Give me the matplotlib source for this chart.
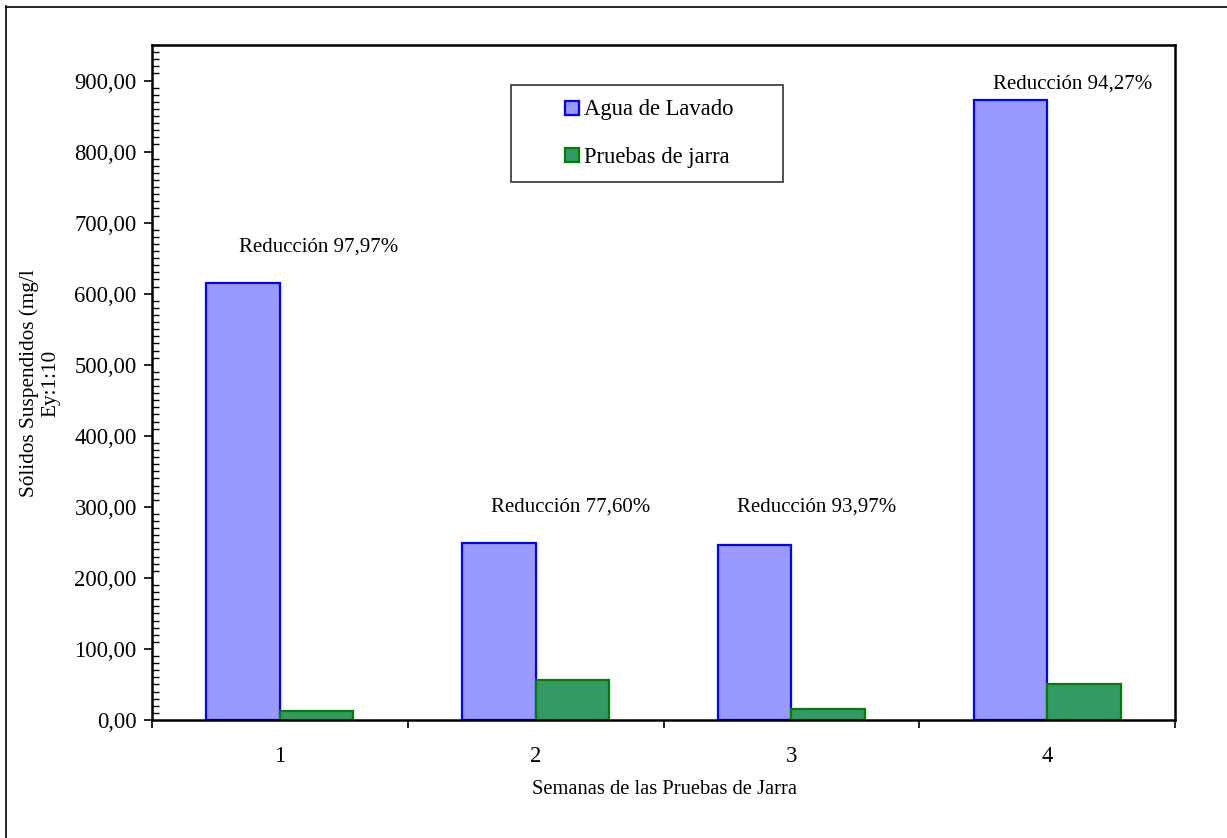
import matplotlib
matplotlib.use("Agg")
import matplotlib.pyplot as plt
from matplotlib.ticker import MultipleLocator, FuncFormatter, FixedLocator
from matplotlib.lines import Line2D
from matplotlib.patches import Rectangle
import numpy as np

# Data
weeks = ["1", "2", "3", "4"]
agua_lavado = [615.0, 248.5, 247.0, 873.0]
pruebas_jarra = [12.5, 55.6, 14.9, 50.0]
reduccion = ["97,97", "77,60", "93,97", "94,27"]

series_names = ["Agua de Lavado", "Pruebas de jarra"]
x_label = "Semanas de las Pruebas de Jarra"
y_label = "Sólidos Suspendidos (mg/l\nEy:1:10"

# Placement of the reduction labels (x offset from group centre, height in data units)
label_dx = [0.15, 0.135, 0.10, 0.10]
label_y = [666, 300, 300, 895]

plt.rcParams["font.family"] = ["Liberation Serif", "DejaVu Serif"]

W, H = 1227, 838
AX_L, AX_R, AX_T, AX_B = 152, 1175, 45, 720
fig = plt.figure(figsize=(W / 100, H / 100), dpi=100)
ax = fig.add_axes([AX_L / W, 1 - AX_B / H, (AX_R - AX_L) / W, (AX_B - AX_T) / H])


def px_to_axes(px, py):
    return ((px - AX_L) / (AX_R - AX_L), (AX_B - py) / (AX_B - AX_T))


x = np.arange(len(weeks))
w = 0.287
ax.bar(x - w / 2, agua_lavado, w, color="#9999FF", edgecolor="#0000FF",
       linewidth=1.6, zorder=2)
ax.bar(x + w / 2, pruebas_jarra, w, color="#339966", edgecolor="#008000",
       linewidth=1.6, zorder=2)

for xi, dx, yi, r in zip(x, label_dx, label_y, reduccion):
    ax.text(xi + dx, yi, f"Reducción {r}%", ha="center", va="center",
            fontsize=15)

ax.set_xlim(-0.5, len(weeks) - 0.5)
ax.set_ylim(0, 950)

# y axis: majors outside with labels, minors inside
ax.yaxis.set_major_locator(FixedLocator(np.arange(0, 901, 100)))
ax.yaxis.set_minor_locator(MultipleLocator(10))
ax.yaxis.set_major_formatter(FuncFormatter(lambda v, p: f"{v:.2f}".replace(".", ",")))
ax.tick_params(axis="y", which="major", direction="out", length=6, width=1.2,
               labelsize=16.3, pad=5)
ax.tick_params(axis="y", which="minor", direction="in", length=5, width=1.0)

# x axis: ticks at category boundaries, labels centred
ax.xaxis.set_major_locator(FixedLocator(np.arange(-0.5, len(weeks), 1.0)))
ax.xaxis.set_major_formatter(FuncFormatter(lambda v, p: ""))
ax.xaxis.set_minor_locator(FixedLocator(x))
ax.set_xticklabels(weeks, minor=True)
ax.tick_params(axis="x", which="major", direction="out", length=6, width=1.2)
ax.tick_params(axis="x", which="minor", length=0, labelsize=16.3, pad=19)

for s in ax.spines.values():
    s.set_linewidth(1.8)
    s.set_color("black")

fig.text(664 / W, 1 - 789 / H, x_label, fontsize=14.8, ha="center", va="center")
fig.text(40 / W, 1 - 383 / H, y_label, fontsize=15.3, ha="center", va="center",
         rotation=90, multialignment="center", linespacing=1.2)

# legend frame
lx0, ly1 = px_to_axes(511, 182)
lx1, ly0 = px_to_axes(783, 85)
ax.add_patch(Rectangle((lx0, ly1), lx1 - lx0, ly0 - ly1, transform=ax.transAxes,
                       facecolor="white", edgecolor="#333333", linewidth=1.2,
                       zorder=4))
handles = [
    Line2D([], [], marker="s", linestyle="none", markersize=10.5,
           markerfacecolor="#9999FF", markeredgecolor="#0000FF", markeredgewidth=1.6),
    Line2D([], [], marker="s", linestyle="none", markersize=10.5,
           markerfacecolor="#339966", markeredgecolor="#008000", markeredgewidth=1.6),
]
leg = ax.legend(handles, series_names, loc="center",
                bbox_to_anchor=px_to_axes(648, 133.5),
                fontsize=16.3, frameon=False, borderpad=0, labelspacing=1.15,
                handletextpad=0.15, handlelength=0.8, borderaxespad=0)
leg.set_zorder(5)

# outer figure border (top and left edges)
fig.add_artist(Line2D([6 / W, 6 / W], [1 - 6 / H, 0], transform=fig.transFigure,
                      color="black", linewidth=1.2))
fig.add_artist(Line2D([6 / W, 1], [1 - 7 / H, 1 - 7 / H], transform=fig.transFigure,
                      color="black", linewidth=1.2))

fig.savefig("out.png", dpi=100, facecolor="white")
